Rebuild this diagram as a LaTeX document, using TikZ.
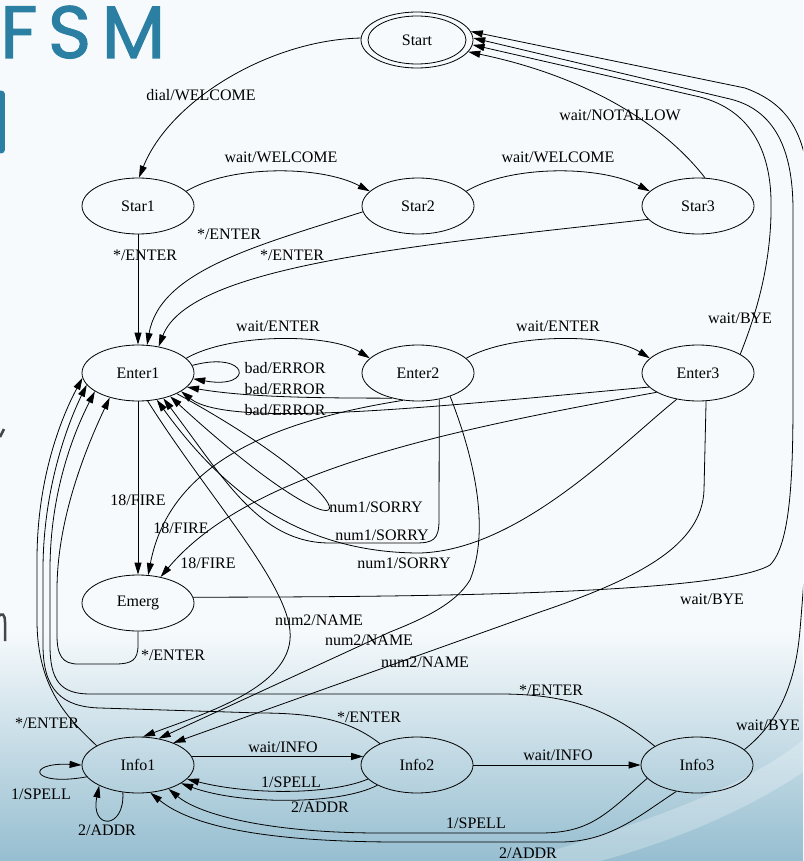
\documentclass[tikz,border=0pt]{standalone}
\usepackage{fontspec}
\setmainfont{Liberation Serif}
\newfontfamily\fsmfont[LetterSpace=14,FakeBold=1.5]{Poppins}
\usetikzlibrary{arrows.meta,shapes.geometric}
\definecolor{bgc}{RGB}{246,250,252}
\definecolor{bgb}{RGB}{150,190,208}
\definecolor{fsmc}{RGB}{43,127,163}
\definecolor{fragc}{RGB}{70,70,70}
\begin{document}
\begin{tikzpicture}[x=1pt,y=-1pt,
  statenode/.style={ellipse,draw,line width=0.8pt,minimum width=112pt,minimum height=56pt,inner sep=0pt,font=\fontsize{16}{18}\selectfont},
  arr/.style={line width=0.8pt,-{Triangle[length=12pt,width=7pt]}},
  elab/.style={font=\fontsize{16}{18}\selectfont,inner sep=0pt}]
\clip (0,0) rectangle (803,861);
\fill[bgc] (0,0) rectangle (803,861);
\shade[top color=bgc,bottom color=bgb] (0,630) rectangle (803,861);
\fill[white,opacity=0.25] (520,861) .. controls (650,820) and (740,790) .. (803,740) -- (803,772) .. controls (740,815) and (660,845) .. (600,861) -- cycle;
% title fragments
\node[anchor=base west,inner sep=0pt,text=fsmc,font=\fsmfont\fontsize{74}{74}\selectfont] (fsm) at (0,58) {FSM};
\draw[fsmc,line width=7pt,line cap=round] (1,94) -- (1,150);
\draw[fragc,line width=2.5pt] (0,437) -- (4,429);
\draw[fragc,line width=2.5pt] (-2,617) .. controls (2,612) and (5,614) .. (5,622) -- (5,641);
% states
\node[statenode] (Start) at (417,40) {Start};
\draw[line width=0.8pt] (Start.center) ellipse [x radius=49pt, y radius=24pt];
\node[statenode] (Star1) at (138,206) {Star1};
\node[statenode] (Star2) at (418,206) {Star2};
\node[statenode] (Star3) at (698,206) {Star3};
\node[statenode] (Enter1) at (138,373) {Enter1};
\node[statenode] (Enter2) at (418,373) {Enter2};
\node[statenode] (Enter3) at (698,373) {Enter3};
\node[statenode] (Emerg) at (138,603) {Emerg};
\node[statenode] (Info1) at (138,765) {Info1};
\node[statenode] (Info2) at (417,765) {Info2};
\node[statenode] (Info3) at (697,765) {Info3};
% edges
\draw[arr] (Start.178) .. controls (270,40) and (170,100) .. (Star1.88);
\draw[arr] (Star1.17) .. controls (230,165) and (320,165) .. (Star2.163);
\draw[arr] (Star2.17) .. controls (510,165) and (600,165) .. (Star3.163);
\draw[arr] (Star3.76) .. controls (660,120) and (580,75) .. (Start.347);
\draw[arr] (Star1.south) -- (Enter1.north);
\draw[arr] (Star2.186) .. controls (260,245) and (160,270) .. (Enter1.72);
\draw[arr] (Star3.195) .. controls (420,245) and (190,265) .. (Enter1.52);
\draw[arr] (Enter1.17) .. controls (230,333) and (330,333) .. (Enter2.163);
\draw[arr] (Enter2.17) .. controls (510,333) and (610,333) .. (Enter3.163);
\draw[arr] (Enter1.8) .. controls (250,350) and (255,390) .. (Enter1.354);
\draw[arr] (Enter2.224) .. controls (330,398) and (250,398) .. (Enter1.344);
\draw[arr] (Enter3.196) .. controls (450,405) and (230,430) .. (Enter1.337);
\draw[arr] (Enter1.south) -- (Emerg.north);
\draw[arr] (Enter2.241) .. controls (280,420) and (170,460) .. (Emerg.70);
\draw[arr] (Enter3.205) .. controls (450,430) and (250,470) .. (Emerg.49);
\draw[arr] (Enter1.332) .. controls (390,510) and (370,580) .. (Enter1.324);
\draw[arr] (Enter2.309) -- (439,520) .. controls (439,540) and (433,543) .. (415,543) -- (330,543) .. controls (260,543) and (225,480) .. (Enter1.315);
\draw[arr] (Enter3.231) .. controls (620,445) and (520,550) .. (420,553) .. controls (290,553) and (215,480) .. (Enter1.305);
\draw[arr] (Enter1.289) .. controls (210,500) and (295,590) .. (290,640) .. controls (285,690) and (200,715) .. (Info1.80);
\draw[arr] (Enter2.324) .. controls (475,460) and (490,530) .. (470,580) .. controls (455,605) and (420,620) .. (390,632) -- (Info1.52);
\draw[arr] (Enter3.286) -- (704,490) .. controls (702,545) and (640,578) .. (540,612) -- (Info1.32);
\draw[arr] (Emerg.south) -- (138,645) .. controls (138,660) and (132,664) .. (115,664) -- (78,664) .. controls (62,664) and (57,655) .. (57,635) -- (57,590) .. controls (57,520) and (85,450) .. (Enter1.221);
\draw[arr] (Info1.155) .. controls (70,720) and (37,690) .. (37,620) -- (37,560) .. controls (37,480) and (60,420) .. (Enter1.185);
\draw[arr] (Info2.150) .. controls (352,722) and (320,713) .. (260,713) -- (100,708) .. controls (62,707) and (43,690) .. (43,645) -- (43,570) .. controls (43,490) and (67,425) .. (Enter1.193);
\draw[arr] (Info3.156) .. controls (610,710) and (570,694) .. (500,694) -- (90,694) .. controls (60,694) and (50,680) .. (50,645) -- (50,570) .. controls (50,490) and (75,430) .. (Enter1.203);
\draw[arr] (Info1.9) -- (Info2.171);
\draw[arr] (Info2.east) -- (Info3.west);
\draw[arr] (Info2.196) .. controls (330,795) and (250,795) .. (Info1.344);
\draw[arr] (Info2.207) .. controls (340,805) and (240,805) .. (Info1.337);
\draw[arr] (Info1.193) .. controls (30,787) and (25,762) .. (Info1.180);
\draw[arr] (Info1.241) .. controls (125,830) and (90,830) .. (Info1.208);
\draw[arr] (Info3.195) .. controls (605,815) and (590,833) .. (540,833) -- (380,833) .. controls (270,833) and (200,815) .. (Info1.322);
\draw[arr] (Info3.232) .. controls (640,815) and (610,842) .. (560,842) -- (400,842) .. controls (260,842) and (190,825) .. (Info1.294);
\draw[arr] (Enter3.24) .. controls (762,300) and (772,250) .. (771,200) .. controls (770,150) and (750,110) .. (700,97) -- (Start.355);
\draw[arr] (Emerg.6) .. controls (400,597) and (720,595) .. (770,565) .. controls (790,545) and (793,480) .. (793,400) -- (793,210) .. controls (793,150) and (775,110) .. (730,99) -- (Start.2);
\draw[arr] (Info3.18) .. controls (775,725) and (795,690) .. (800,630) .. controls (805,570) and (810,500) .. (810,420) -- (810,220) .. controls (810,150) and (800,108) .. (745,88) -- (Start.9);
% labels
\node[elab] (l1) at (201,95) {dial/WELCOME};
\node[elab] (l2) at (281,157) {wait/WELCOME};
\node[elab] (l3) at (558,157) {wait/WELCOME};
\node[elab] (l4) at (620,115) {wait/NOTALLOW};
\node[elab] (l5) at (145,255) {*/ENTER};
\node[elab] (l6) at (229,234) {*/ENTER};
\node[elab] (l7) at (292,255) {*/ENTER};
\node[elab] (l8) at (278,326) {wait/ENTER};
\node[elab] (l9) at (558,326) {wait/ENTER};
\node[elab] (l10) at (285,368) {bad/ERROR};
\node[elab] (l11) at (285,389) {bad/ERROR};
\node[elab] (l12) at (285,410) {bad/ERROR};
\node[elab] (l13) at (740,318) {wait/BYE};
\node[elab] (l14) at (138,500) {18/FIRE};
\node[elab] (l15) at (181,528) {18/FIRE};
\node[elab] (l16) at (208,563) {18/FIRE};
\node[elab] (l17) at (376,507) {num1/SORRY};
\node[elab] (l18) at (382,535) {num1/SORRY};
\node[elab] (l19) at (404,563) {num1/SORRY};
\node[elab] (l20) at (173,655) {*/ENTER};
\node[elab] (l21) at (712,599) {wait/BYE};
\node[elab] (l22) at (319,620) {num2/NAME};
\node[elab] (l23) at (369,640) {num2/NAME};
\node[elab] (l24) at (425,662) {num2/NAME};
\node[elab] (l25) at (551,690) {*/ENTER};
\node[elab] (l26) at (369,717) {*/ENTER};
\node[elab] (l27) at (47,723) {*/ENTER};
\node[elab] (l28) at (768,725) {wait/BYE};
\node[elab] (l29) at (283,747) {wait/INFO};
\node[elab] (l30) at (558,755) {wait/INFO};
\node[elab] (l31) at (291,782) {1/SPELL};
\node[elab] (l32) at (320,807) {2/ADDR};
\node[elab] (l33) at (41,794) {1/SPELL};
\node[elab] (l34) at (107,830) {2/ADDR};
\node[elab] (l35) at (476,823) {1/SPELL};
\node[elab] (l36) at (528,853) {2/ADDR};
\end{tikzpicture}
\end{document}
